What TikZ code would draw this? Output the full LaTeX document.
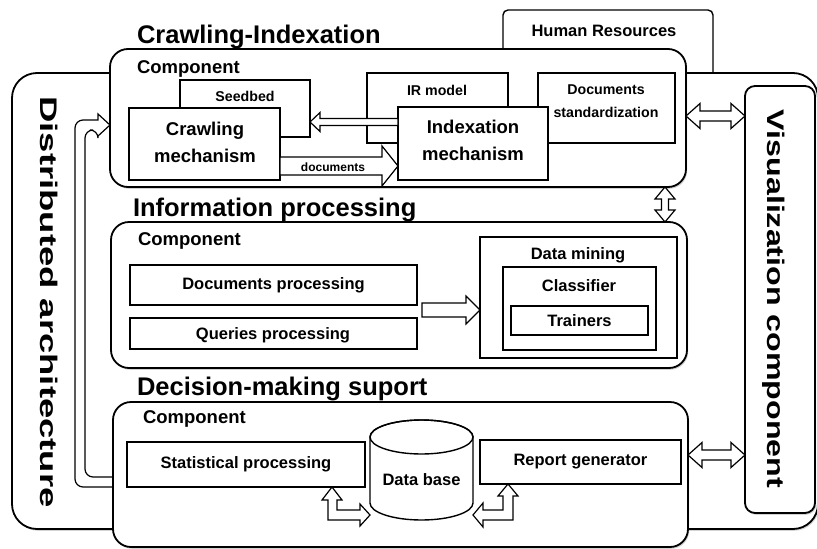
\documentclass[tikz,border=0pt]{standalone}
\usepackage{fontspec}
\setmainfont{Liberation Sans}
\usetikzlibrary{calc,fit,shadows}
\newcommand\hblock[5]{% tail, tip, shaft half, head half, signed head length
  \draw[arrowbox] ($#1+(0,-#3)$) -- ($#2+({-(#5)},-#3)$) -- ($#2+({-(#5)},-#4)$) -- #2 -- ($#2+({-(#5)},#4)$) -- ($#2+({-(#5)},#3)$) -- ($#1+(0,#3)$) -- cycle;}
\newcommand\hdouble[5]{% left tip, right tip, shaft half, head half, head length
  \draw[arrowbox] #1 -- ($#1+(#5,-#4)$) -- ($#1+(#5,-#3)$) -- ($#2+(-#5,-#3)$) -- ($#2+(-#5,-#4)$) -- #2 -- ($#2+(-#5,#4)$) -- ($#2+(-#5,#3)$) -- ($#1+(#5,#3)$) -- ($#1+(#5,#4)$) -- cycle;}
\newcommand\vdouble[5]{% top tip, bottom tip, shaft half, head half, head length
  \draw[arrowbox] #1 -- ($#1+(#4,#5)$) -- ($#1+(#3,#5)$) -- ($#2+(#3,-#5)$) -- ($#2+(#4,-#5)$) -- #2 -- ($#2+(-#4,-#5)$) -- ($#2+(-#3,-#5)$) -- ($#1+(-#3,#5)$) -- ($#1+(-#4,#5)$) -- cycle;}
\begin{document}
\begin{tikzpicture}[x=1pt,y=-1pt,
  every node/.style={inner sep=0pt, outer sep=0pt},
  bigbox/.style={draw, line width=1.8pt, rounded corners=18pt, fill=white,
     drop shadow={shadow xshift=1.2pt, shadow yshift=-1.8pt, opacity=0.35}},
  box/.style={draw, line width=1.4pt, fill=white},
  arrowbox/.style={draw, line width=1.2pt, fill=white, line join=miter},
  ttl/.style={font=\fontsize{25.5}{30}\selectfont\bfseries, anchor=base west},
  cmp/.style={font=\fontsize{18.5}{22}\selectfont\bfseries, anchor=base west},
  big/.style={font=\fontsize{18.5}{27}\selectfont\bfseries, align=center},
  txt/.style={font=\fontsize{16.5}{20}\selectfont\bfseries},
  sml/.style={font=\fontsize{14.2}{23}\selectfont\bfseries, align=center},
  vert/.style={rotate=-90, anchor=base, font=\fontsize{24}{28}\selectfont\bfseries},
]
\useasboundingbox (0,0) rectangle (817,549);

% Human resources (behind)
\node[box, rounded corners=5pt, fit={(503,10)(713,95)}] (hr) {};
\node[txt] (hrt) at (604,31) {Human Resources};

% outer distributed architecture box
\node[bigbox, rounded corners=25pt, fit={(12,73)(818,529)}] (dist) {};
\node[vert] (distt) at (40,302) {\scalebox{1.52}[1]{Distributed architecture}};

% visualization
\node[bigbox, rounded corners=10pt, fit={(745,86)(815,513)}] (vis) {};
\node[vert] (vist) at (767,299) {\scalebox{1.34}[1]{Visualization component}};

% long arrow on the left
\draw[arrowbox] (112,477) [rounded corners=8pt] -- (85,477) -- (85,130) -- (98,130) [sharp corners] -- (98,136) -- (110,125) -- (98,114) -- (98,120) [rounded corners=8pt] -- (75,120) -- (75,487) -- (112,487);

% ---------------- Crawling-Indexation
\node[bigbox, fit={(110,49)(686,187)}] (ci) {};
\node[ttl] (cit) at (137,43) {Crawling-Indexation};
\node[cmp] (cic) at (137,73) {Component};
\node[box, fit={(180,80)(310,137)}] (seed) {};
\node[sml] (seedt) at (245,96) {Seedbed};
\node[box, fit={(129,108)(280,180)}] (crawl) {};
\node[big] (crawlt) at (205,142) {Crawling\\mechanism};
\node[box, fit={(367,73)(508,143)}] (ir) {};
\node[sml] (irt) at (437,90) {IR model};
\node[box, fit={(538,73)(675,143)}] (dstd) {};
\node[sml] (dstdt) at (606,101) {Documents\\standardization};
\node[box, fit={(398,107)(548,180)}] (idx) {};
\node[big] (idxt) at (473,140) {Indexation\\mechanism};

\hblock{(idx.west |- 0,122)}{(seed.east |- 0,122)}{3.5}{9.5}{-10}
\hblock{(crawl.east |- 0,166)}{(idx.west |- 0,166)}{9}{20}{16}
\node[font=\fontsize{12}{14}\selectfont\bfseries] (doclbl) at (333,167) {documents};

% ---------------- Information processing
\node[bigbox, fit={(111,222)(687,368)}] (ip) {};
\node[ttl] (ipt) at (133,216) {Information processing};
\node[cmp] (ipc) at (138,245) {Component};
\node[box, fit={(130,265)(417,305)}] (docp) {};
\node[txt] (docpt) at (docp.center) {Documents processing};
\node[box, fit={(130,318)(417,349)}] (qp) {};
\node[txt] (qpt) at (273,335) {Queries processing};
\node[box, fit={(480,237)(677,358)}] (dm) {};
\node[txt] (dmt) at (578,255) {Data mining};
\node[box, fit={(503,267)(656,350)}] (cls) {};
\node[txt] (clst) at (579,286) {Classifier};
\node[box, fit={(511,306)(648,335)}] (trn) {};
\node[txt] (trnt) at (trn.center) {Trainers};
\coordinate (ipa) at ($(docp.east |- 0,310)+(5,0)$);
\hblock{(ipa)}{(dm.west |- 0,310)}{7}{14}{14}

% ---------------- Decision-making
\node[bigbox, fit={(113,402)(688,547)}] (dms) {};
\node[ttl] (dmst) at (137,395) {Decision-making suport};
\node[cmp] (dmsc) at (143,423) {Component};
\node[box, fit={(127,442)(365,487)}] (stat) {};
\node[txt] (statt) at (stat.center) {Statistical processing};
\node[box, fit={(480,440)(681,484)}] (rep) {};
\node[txt] (rept) at (rep.center) {Report generator};
\node[fit={(370,420)(473,520)}] (db) {};
\draw[line width=1.4pt, fill=white] (370,437) -- (370,503) arc[start angle=180, end angle=0, x radius=51.5, y radius=17] -- (473,437) arc[start angle=0, end angle=-180, x radius=51.5, y radius=17] -- cycle;
\draw[line width=1.4pt] (421.5,437) ellipse[x radius=51.5, y radius=17];
\node[txt] (dbt) at (421.5,480) {Data base};

\draw[arrowbox] (332,0 |- stat.south) coordinate (t1) -- ++(10,13) -- ++(-5,0) -- ++(0,10) -- ++(23,0) -- ++(0,-6) -- ++(10,11) -- ++(-10,11) -- ++(0,-6) -- ++(-32,0) -- ++(0,-20) -- ++(-6,0) -- cycle;
\draw[arrowbox] (508,0 |- rep.south) coordinate (t2) -- ++(10,12) -- ++(-5,0) -- ++(0,24) -- ++(-30,0) -- ++(0,7) -- ++(-10,-12) -- ++(10,-12) -- ++(0,7) -- ++(20,0) -- ++(0,-14) -- ++(-5,0) -- cycle;

% connections to visualization and between components
\hdouble{(ci.east |- 0,116)}{(vis.west |- 0,116)}{5}{12.5}{14}
\hdouble{(dms.east |- 0,455)}{(vis.west |- 0,455)}{5}{12.5}{14}
\vdouble{(665,0 |- ci.south)}{(665,0 |- ip.north)}{3.5}{10}{12}
\end{tikzpicture}
\end{document}
